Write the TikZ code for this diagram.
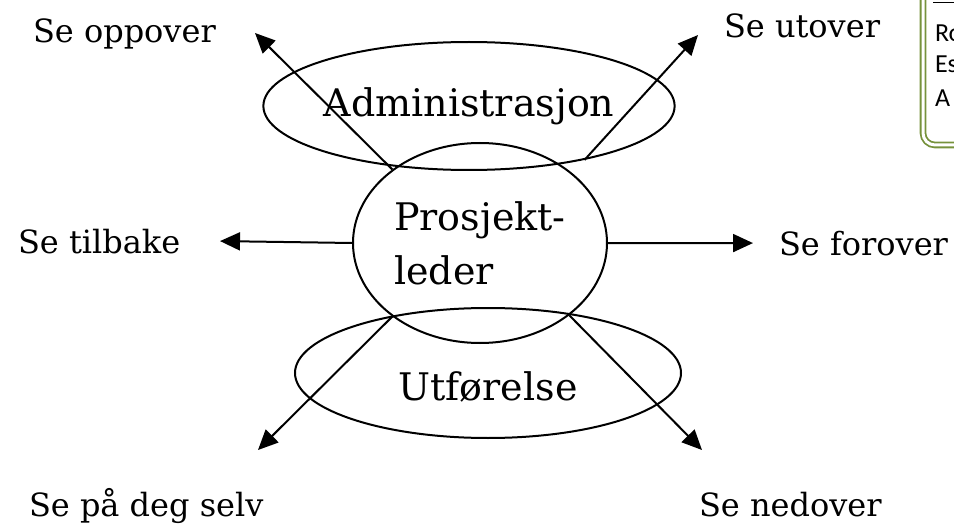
\documentclass[tikz,border=0pt]{standalone}
\usepackage{fontspec}
\setmainfont{DejaVu Serif}
\newfontfamily\notefont{Carlito}
\usetikzlibrary{shapes.geometric,arrows.meta}
\definecolor{notegreen}{RGB}{118,146,60}
\tikzset{
  oval/.style={
      ellipse,
      draw,
      inner sep=0pt,
      font=\fontsize{38}{54}\selectfont
      },
  look/.style={
      anchor=base west,
      inner sep=0pt,
      font=\fontsize{32}{38}\selectfont
      },
  noteline/.style={
      anchor=base west,
      inner sep=0pt,
      font=\notefont\fontsize{26}{30}\selectfont
      }
}

\begin{document}
\begin{tikzpicture}[x=1pt,y=-1pt,line width=2pt,>={Triangle[length=20pt,width=18pt]}]
\useasboundingbox (0,0) rectangle (954,524);
\node [oval, minimum width=384pt, minimum height=128pt] (admin) at (469,106) {Administrasjon};
\node [oval, minimum width=254pt, minimum height=200pt, align=left] (leder) at (480,243) {Prosjekt-\\leder};
\node [oval, minimum width=386pt, minimum height=130pt] (utf) at (488,373) {\raisebox{-14pt}[\height][\depth]{Utførelse}};
\node [look] (oppover) at (32,43) {Se oppover};
\node [look] (utover) at (723,38) {Se utover};
\node [look] (tilbake) at (17,253) {Se tilbake};
\node [look] (forover) at (778,255) {Se forover};
\node [look] (selv) at (28,516) {Se på deg selv};
\node [look] (nedover) at (698,516) {Se nedover};
\coordinate (oppTip) at (255,33);
\coordinate (utTip) at (698,35);
\coordinate (selvTip) at (258,450);
\coordinate (nedTip) at (702,450);
\draw [->] (leder.140) to (oppTip);
\draw [->] (admin.-25) to (utTip);
\draw [->] (leder.west) to (tilbake.east -| 220,0);
\draw [->] (leder.east) to (forover.west -| 753,0);
\draw [->] (leder.-140) to (selvTip);
\draw [->] (leder.-39) to (nedTip);
% box at the right edge
\draw [notegreen, line width=1.8pt, double=white, double distance=3pt, rounded corners=12pt] (923,-20) rectangle (1000,145);
\draw [line width=1pt] (933,3) -- (960,3);
\node [noteline] (noteR) at (934,42) {Ro};
\node [noteline] (noteE) at (934,73) {Es};
\node [noteline] (noteA) at (934,107) {A};
\end{tikzpicture}
\end{document}
